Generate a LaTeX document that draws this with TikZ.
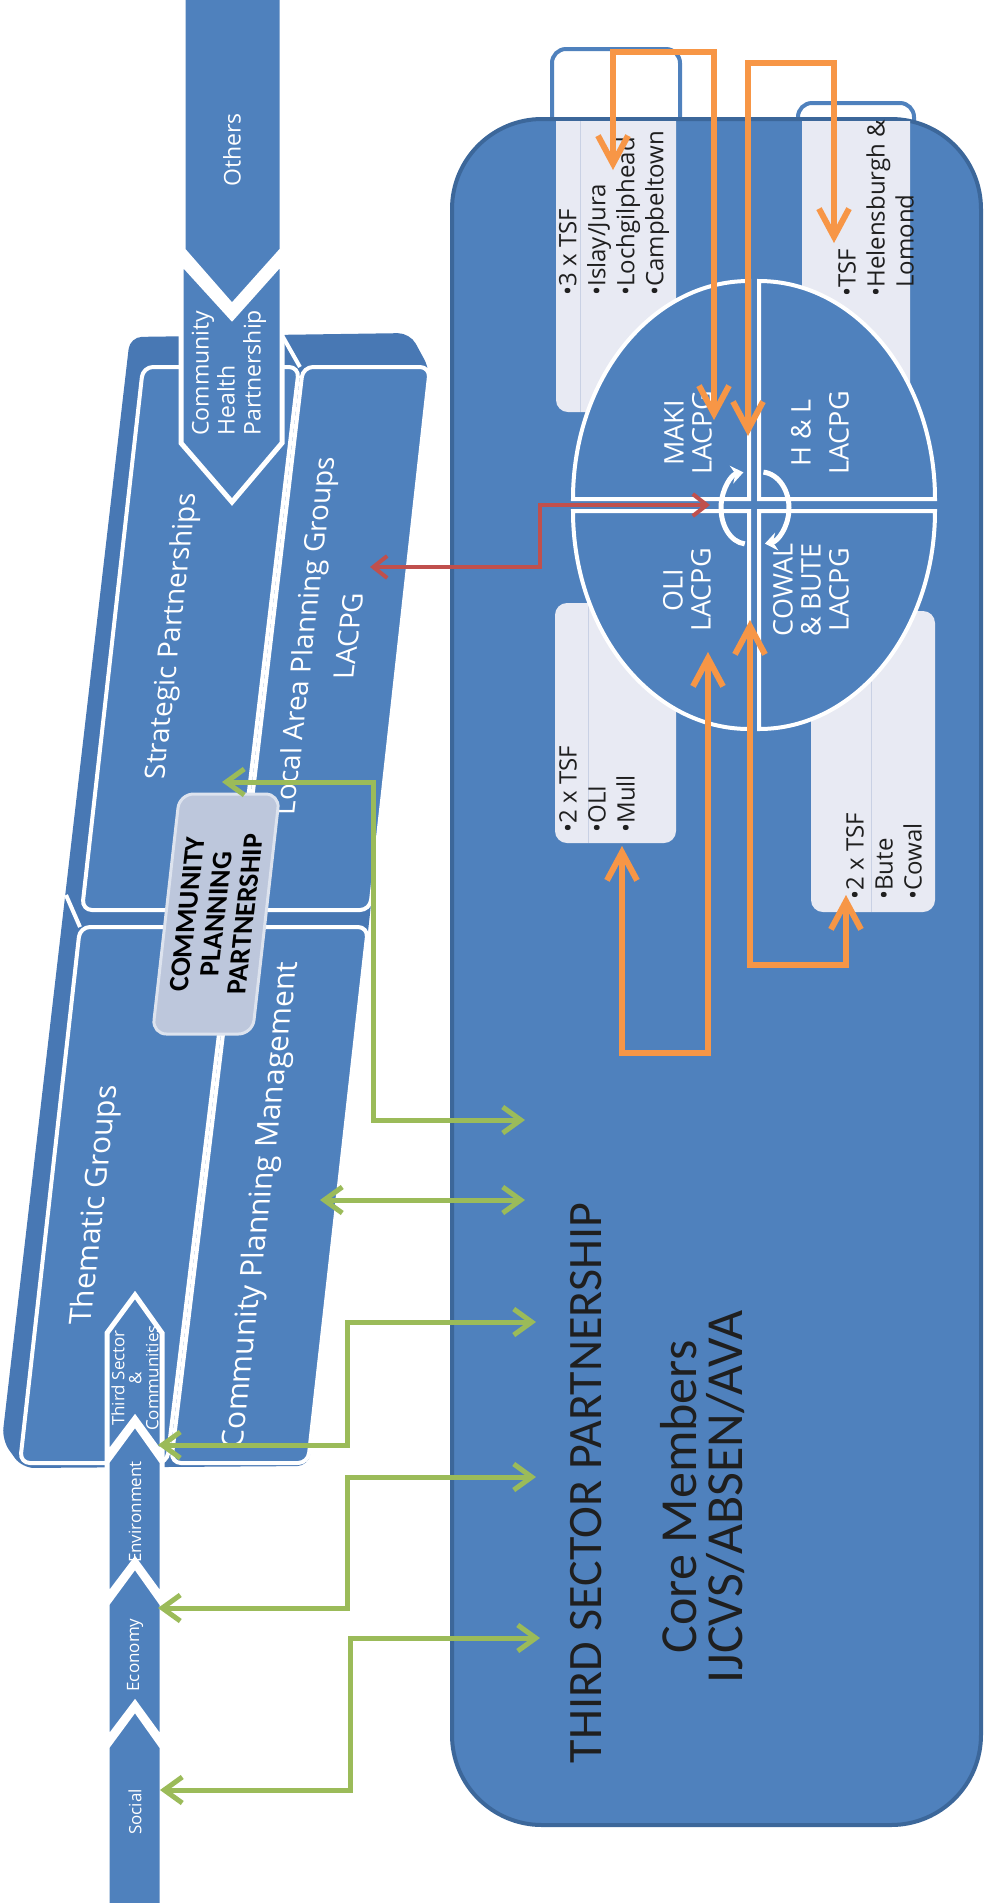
\documentclass[tikz,border=0pt]{standalone}
\usepackage{fontspec}
\setmainfont{Open Sans}
\newfontfamily\calfont{Carlito}
\usetikzlibrary{arrows.meta}

\definecolor{tspblue}{HTML}{4F81BD}
\definecolor{tspedge}{HTML}{3C679A}
\definecolor{slabback}{HTML}{4878B4}
\definecolor{calloutfill}{HTML}{E8EAF3}
\definecolor{calloutline}{HTML}{C9D1E4}
\definecolor{cppfill}{HTML}{BDC7DC}
\definecolor{cppedge}{HTML}{DDE3EE}
\definecolor{greenarr}{HTML}{9BBB59}
\definecolor{orangearr}{HTML}{F79646}
\definecolor{redarr}{HTML}{C0504D}
\definecolor{textdark}{HTML}{1F1F1F}

\begin{document}
\begin{tikzpicture}[
  x=0.5pt, y=-0.5pt,
  chevron/.style={fill=tspblue, draw=white, line width=2.5pt},
  slabpanel/.style={fill=tspblue, draw=white, line width=2pt, rounded corners=5pt},
  quadrant/.style={fill=tspblue, draw=white, line width=2pt},
  tabbox/.style={fill=white, draw=tspblue, line width=2pt, rounded corners=7pt},
  calloutbox/.style={fill=calloutfill},
  whitelabel/.style={text=white, rotate=90, align=center, inner sep=0pt},
  slablabel/.style={text=white, xslant=0.113, rotate=90, align=center, inner sep=0pt, font=\fontsize{14}{16}\selectfont},
  bullets/.style={text=textdark, rotate=90, anchor=west, align=left, inner sep=0pt, font=\fontsize{12}{14.5}\selectfont},
  greenlink/.style={draw=greenarr, line width=2.5pt, {Straight Barb[length=9pt,width=13pt]}-{Straight Barb[length=9pt,width=13pt]}},
  redlink/.style={draw=redarr, line width=2pt, {Straight Barb[length=7pt,width=11pt]}-{Straight Barb[length=7pt,width=11pt]}},
  orangelink/.style={draw=orangearr, line width=3pt, {Straight Barb[length=14pt,width=15pt]}-{Straight Barb[length=14pt,width=15pt]}},
  cyclearrow/.style={draw=white, line width=2.5pt, -{Stealth[length=6pt,width=9pt]}}
]
  \useasboundingbox (0,0) rectangle (986,1903);

  % community planning slab
  \fill[slabback, rounded corners=6pt] (2,1440) -- (130,337) -- (410,333) -- (430,370) -- (309,1466) -- (22,1468) -- cycle;
  \draw[slabpanel] (143,367) -- (299,367) -- (235,910) -- (82,910) -- cycle;
  \draw[slabpanel] (303,367) -- (430,367) -- (370,910) -- (239,910) -- cycle;
  \draw[slabpanel] (80,927) -- (232,927) -- (167,1463) -- (20,1463) -- cycle;
  \draw[slabpanel] (236,927) -- (368,927) -- (308,1463) -- (171,1463) -- cycle;
  \draw[white, line width=2pt] (283,337) -- (300,367);
  \draw[white, line width=2pt] (66,895) -- (80,927);

  \node[slablabel] (strat) at (173,636) {Strategic Partnerships};
  \node[slablabel, font=\fontsize{14}{22}\selectfont] (lapg) at (326,636) {Local Area Planning Groups\\LACPG};
  \node[slablabel, font=\fontsize{15}{17}\selectfont] (thematic) at (96,1205) {Thematic Groups};
  \node[slablabel, font=\fontsize{15}{17}\selectfont] (cpm) at (262,1205) {Community Planning Management};

  % others / health partnership
  \draw[chevron] (183,-5) -- (282,-5) -- (282,250) -- (232,306) -- (183,250) -- cycle;
  \draw[chevron] (181,262) -- (232,318) -- (282,262) -- (282,443) -- (232,502) -- (181,443) -- cycle;
  \node[whitelabel, font=\fontsize{11.5}{13}\selectfont] (others) at (232,150) {Others};
  \node[whitelabel, anchor=west, align=left, font=\fontsize{11.5}{13}\selectfont] (chp) at (229,436) {Community\\Health\\Partnership};

  \node[xslant=0.113, rotate=90, fill=cppfill, draw=cppedge, line width=1.5pt, rounded corners=7pt,
        minimum width=120pt, minimum height=50pt, align=center, inner sep=2pt,
        font=\calfont\bfseries\fontsize{14}{14.5}\selectfont] (cpp) at (216,914) {COMMUNITY\\PLANNING\\PARTNERSHIP};

  % themes
  \foreach \tp/\bt in {1295/1455, 1424/1597, 1566/1740}
    \draw[chevron] (107,\tp+38) -- (135,\tp) -- (162,\tp+38) -- (162,\bt) -- (135,\bt-37) -- (107,\bt) -- cycle;
  \draw[chevron] (107,1747) -- (135,1709) -- (162,1747) -- (162,1910) -- (107,1910) -- cycle;
  \node[whitelabel, font=\fontsize{8.5}{8.5}\selectfont] (tsc) at (135,1378) {Third Sector\\\&\\Communities};
  \node[whitelabel, font=\fontsize{8.5}{8.5}\selectfont] (env) at (135,1512) {Environment};
  \node[whitelabel, font=\fontsize{8.5}{8.5}\selectfont] (eco) at (135,1655) {Economy};
  \node[whitelabel, font=\fontsize{8.5}{8.5}\selectfont] (social) at (135,1812) {Social};

  % third sector partnership
  \draw[tabbox] (552,49) rectangle (680,160);
  \draw[tabbox] (798,103) rectangle (914,160);
  \draw[fill=tspblue, draw=tspedge, line width=2pt, rounded corners=45pt] (452,119) rectangle (981,1825);

  \fill[calloutbox] (556,121) -- (676,121) [rounded corners=6pt] -- (676,412) -- (556,412) [sharp corners] -- cycle;
  \fill[calloutbox] (802,121) -- (910,121) [rounded corners=6pt] -- (910,420) -- (802,420) [sharp corners] -- cycle;
  \fill[calloutbox, rounded corners=6pt] (555,603) rectangle (676,843);
  \fill[calloutbox, rounded corners=6pt] (811,611) rectangle (935,912);
  \draw[calloutline, line width=0.5pt] (580,121) -- (580,412);
  \draw[calloutline, line width=0.5pt] (588,603) -- (588,843);
  \draw[calloutline, line width=0.5pt] (871,611) -- (871,912);

  \node[bullets] (c1) at (614,296) {•3 x TSF\\•Islay/Jura\\•Lochgilphead\\•Campbeltown};
  \node[bullets] (c2) at (876,297) {•TSF\\•Helensburgh \&\\\hphantom{•}Lomond};
  \node[bullets] (c3) at (597,833) {•2 x TSF\\•OLI\\•Mull};
  \node[bullets] (c4) at (884,900) {•2 x TSF\\•Bute\\•Cowal};

  % local area planning groups
  \draw[quadrant] (749,499) -- (573,499) arc[start angle=180, end angle=270, x radius=176, y radius=218] -- cycle;
  \draw[quadrant] (759,499) -- (759,281) arc[start angle=270, end angle=360, x radius=176, y radius=218] -- cycle;
  \draw[quadrant] (749,511) -- (749,729) arc[start angle=90, end angle=180, x radius=176, y radius=218] -- cycle;
  \draw[quadrant] (759,511) -- (935,511) arc[start angle=0, end angle=90, x radius=176, y radius=218] -- cycle;

  \node[whitelabel, font=\fontsize{13.5}{14}\selectfont] (maki) at (688,433) {MAKI\\LACPG};
  \node[whitelabel, font=\fontsize{13.5}{14}\selectfont] (hl) at (820,433) {H \& L\\[5pt]LACPG};
  \node[whitelabel, font=\fontsize{13.5}{14}\selectfont] (oli) at (687,590) {OLI\\LACPG};
  \node[whitelabel, font=\fontsize{13.5}{14}\selectfont] (cowal) at (811,590) {COWAL\\\& BUTE\\LACPG};

  \draw[cyclearrow] (747,508) ++(95:26 and 36) arc[start angle=95, end angle=262, x radius=26, y radius=36];
  \draw[cyclearrow] (761,508) ++(-85:28 and 36) arc[start angle=-85, end angle=82, x radius=28, y radius=36];

  \node[text=textdark, rotate=90, inner sep=0pt, font=\calfont\fontsize{24}{26}\selectfont] (tsp) at (586,1483) {THIRD SECTOR PARTNERSHIP};
  \node[text=textdark, rotate=90, inner sep=0pt, align=center, font=\calfont\fontsize{26}{23}\selectfont] (core) at (703,1497) {Core Members\\IJCVS/ABSEN/AVA};

  % connector ends
  \coordinate (cppin) at (222,782);
  \coordinate (tspa) at (525,1120);
  \coordinate (cpmin) at (320,1200);
  \coordinate (tspb) at (525,1200);
  \coordinate (tspc) at (536,1322);
  \coordinate (tscin) at (158,1445);
  \coordinate (tspd) at (536,1477);
  \coordinate (envin) at (158,1608);
  \coordinate (tspe) at (540,1638);
  \coordinate (socin) at (160,1790);
  \coordinate (lapgin) at (370,567);
  \coordinate (hubin) at (710,505);
  \coordinate (c1in) at (613,170);
  \coordinate (makiin) at (714,420);
  \coordinate (hlin) at (748,436);
  \coordinate (c2in) at (834,243);
  \coordinate (oliin) at (708,652);
  \coordinate (c3in) at (622,846);
  \coordinate (cowin) at (750,620);
  \coordinate (c4in) at (846,895);

  \draw[greenlink] (cppin) -- ++(151,0) |- (tspa);
  \draw[greenlink] (cpmin) -- (tspb);
  \foreach \a/\b in {tspc/tscin, tspd/envin}
    \draw[greenlink] (\a) -- ++(-189,0) |- (\b);
  \draw[greenlink] (tspe) -- ++(-190,0) |- (socin);

  \draw[redlink] (lapgin) -- ++(170,0) |- (hubin);

  \draw[orangelink] (c1in) -- ++(0,-118) -| (makiin);
  \draw[orangelink] (hlin) -- ++(0,-373) -| (c2in);
  \draw[orangelink] (oliin) -- ++(0,401) -| (c3in);
  \draw[orangelink] (cowin) -- ++(0,345) -| (c4in);
\end{tikzpicture}
\end{document}
